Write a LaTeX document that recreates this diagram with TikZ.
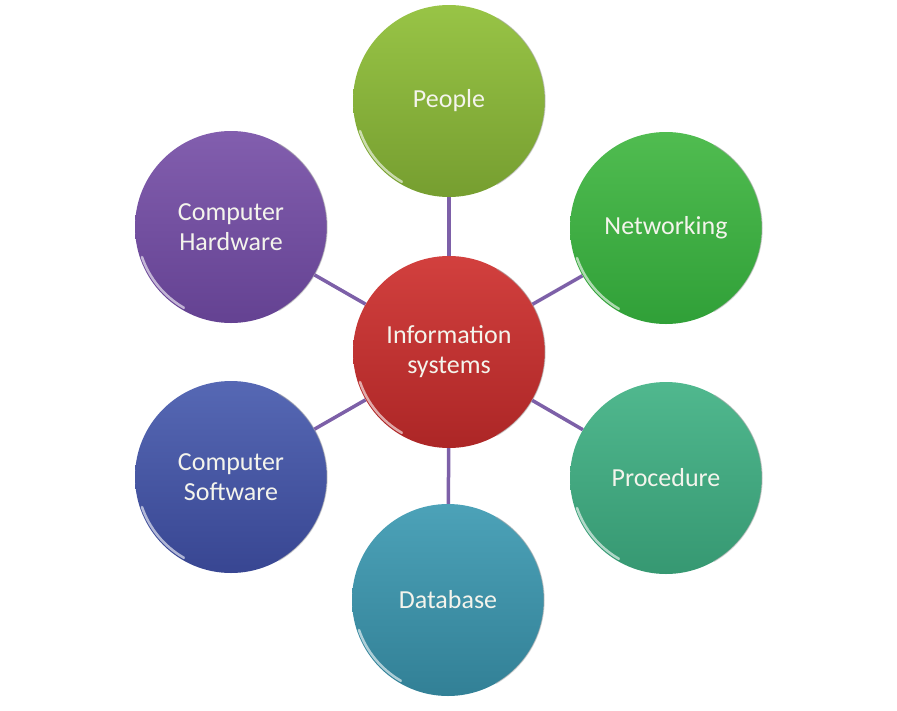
\documentclass[tikz,border=0pt]{standalone}
\usepackage{fontspec}
\setmainfont{Carlito}
\definecolor{conncol}{RGB}{125,96,168}
\definecolor{txtcol}{RGB}{244,244,236}
\definecolor{pT}{RGB}{152,196,70}\definecolor{pB}{RGB}{118,158,48}
\definecolor{nT}{RGB}{80,188,80}\definecolor{nB}{RGB}{48,160,56}
\definecolor{rT}{RGB}{80,184,142}\definecolor{rB}{RGB}{54,152,114}
\definecolor{dT}{RGB}{76,162,184}\definecolor{dB}{RGB}{50,128,150}
\definecolor{sT}{RGB}{86,104,180}\definecolor{sB}{RGB}{56,70,146}
\definecolor{hT}{RGB}{130,94,174}\definecolor{hB}{RGB}{100,66,146}
\definecolor{cT}{RGB}{210,64,62}\definecolor{cB}{RGB}{172,38,38}
\tikzset{
  ball/.style 2 args={circle, minimum size=192pt, inner sep=0pt,
    shade, top color=#1, bottom color=#2, shading angle=0,
    text=txtcol, align=center,
    font=\fontsize{26}{30}\selectfont},
  conn/.style={draw=conncol, line width=3.5pt},
  rim/.style={white, opacity=0.6, line width=2.5pt, line cap=round},
  edge/.style={black!35, opacity=0.5, line width=1.2pt}
}
\begin{document}
\begin{tikzpicture}[x=1pt,y=-1pt]
\useasboundingbox (0,0) rectangle (897,710);
\coordinate (cc) at (449,352);
\node[ball={cT}{cB}] (c) at (cc) {Information\\systems};
\node[ball={pT}{pB}] (p) at (449,101) {People};
\node[ball={nT}{nB}] (n) at (666,228) {Networking};
\node[ball={rT}{rB}] (r) at (666,478) {Procedure};
\node[ball={dT}{dB}] (d) at (448,600) {Database};
\node[ball={sT}{sB}] (s) at (231,477) {Computer\\Software};
\node[ball={hT}{hB}] (h) at (231,227) {Computer\\Hardware};
\foreach \b in {c,p,n,r,d,s,h}{
  \draw[rim] (\b) ++(-89pt,-30pt) arc[start angle=-161, end angle=-120, radius=94pt];
  \draw[edge] (\b.-60) arc[start angle=-60, end angle=60, radius=96pt];
}
\draw[conn] (c) -- (p);
\draw[conn] (c) -- (n);
\draw[conn] (c) -- (r);
\draw[conn] (c) -- (d);
\draw[conn] (c) -- (s);
\draw[conn] (c) -- (h);
\end{tikzpicture}
\end{document}
